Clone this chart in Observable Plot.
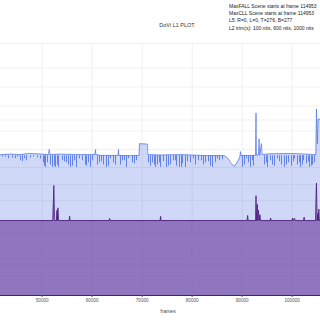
<!DOCTYPE html>
<html>
<head>
<meta charset="utf-8">
<script src="https://cdn.jsdelivr.net/npm/d3@7"></script>
<script src="https://cdn.jsdelivr.net/npm/@observablehq/plot@0.6"></script>
<style>
  html, body { margin: 0; padding: 0; background: #fff; }
  #chart { width: 320px; height: 320px; overflow: hidden; }
</style>
</head>
<body>
<div id="chart"></div>
<script>
// ---- data ----
const titleText = "DoVi L1 PLOT";
const infoLines = [
  "MaxFALL Scene starts at frame 114953",
  "MaxCLL Scene starts at frame 114953",
  "L5: R=0, L=0, T=276, B=277",
  "L2 trim(s): 100 nits, 600 nits, 1000 nits"
];
const xLabel = "frames";
const xTicks = [50000, 60000, 70000, 80000, 90000, 100000];
const gridNits = [0.1, 0.5, 1, 2.5, 5, 10, 25, 50, 100, 200, 400, 600, 1000, 2000, 4000, 10000];
const frameDomain = [41667, 105667];

// maximum (nits): upper envelope of the max series, including its spikes
const maxFrames = [
  41000, 41667, 43667, 45667, 47267, 48867, 51267, 51427, 51587, 53667,
  57667, 60587, 60667, 60747, 61667, 65187, 65267, 65347, 67667, 69387,
  69467, 71067, 71147, 73667, 77667, 81667, 86467, 87267, 87867, 88467,
  89067, 89547, 89667, 89787, 92667, 92767, 92867, 93267, 93387, 93507,
  93867, 93987, 95667, 99667, 102667, 104747, 104867, 105027, 105187, 105667,
  106100
];
const maxNits = [
  165, 165, 168, 165, 172, 170, 165, 200, 165, 168,
  165, 165, 200, 165, 160, 160, 200, 160, 158, 160,
  250, 245, 165, 162, 165, 160, 158, 140, 115, 105,
  125, 150, 185, 160, 160, 780, 160, 165, 300, 160,
  250, 165, 170, 172, 168, 165, 900, 250, 620, 620,
  620
];
// single-frame drops of the max series below its envelope
const dipTopNits = 158;
const dipFrames = [
  42667, 43267, 44067, 45667, 46067, 46467, 46867, 48267, 49067, 50467,
  50667, 51067, 52067, 52467, 52667, 53067, 53267, 54067, 54867, 55667,
  56067, 56867, 57467, 58067, 58667, 59267, 59667, 61467, 62267, 62867,
  63667, 64267, 65667, 66467, 67267, 68067, 68867, 71667, 72067, 72667,
  73067, 73667, 74267, 74867, 75667, 76267, 76867, 77467, 78067, 78667,
  79667, 80267, 81267, 82267, 83267, 84067, 84667, 85467, 90067, 90467,
  90867, 91667, 92067, 92267, 94467, 95067, 95667, 96467, 97067, 97867,
  98467, 99267, 99867, 100467, 101067, 101667, 102267, 102867, 103467, 104067,
  104467,
  42067, 44667, 45067, 47667, 49667, 50267, 51667, 54467, 55267, 56467,
  58867, 60067, 61067, 61867, 63267, 64667, 66067, 66867, 68467, 71267,
  72467, 73467, 75267, 76667, 77867, 79067, 80667, 81867, 82667, 83667,
  85067, 86067, 91267, 94867, 96067, 97467, 98867, 100267, 101467, 102067,
  103267, 103867
];
const dipNits = [
  150, 140, 145, 130, 125, 140, 130, 150, 145, 105,
  100, 120, 100, 105, 100, 110, 100, 130, 120, 100,
  105, 100, 140, 130, 110, 120, 100, 120, 110, 100,
  140, 120, 110, 130, 140, 120, 130, 105, 120, 100,
  110, 100, 125, 100, 110, 130, 105, 100, 115, 100,
  120, 140, 130, 110, 125, 100, 120, 130, 100, 110,
  140, 100, 130, 105, 110, 100, 130, 105, 140, 110,
  100, 120, 105, 140, 110, 100, 130, 115, 100, 110,
  120,
  150, 140, 150, 145, 140, 120, 110, 125, 110, 130,
  105, 130, 110, 125, 105, 110, 130, 100, 115, 120,
  110, 120, 105, 130, 100, 125, 110, 130, 120, 105,
  140, 135, 120, 120, 110, 125, 110, 125, 120, 110,
  125, 105
];

// average (nits)
const avgFrames = [
  41600, 52150, 52330, 52500, 52850, 52950, 53050, 53150, 53300,
  55400, 55500, 55600, 63400, 63500, 63600, 73600, 73700, 73800,
  91000, 91100, 91200, 92700, 92770, 92900, 93050, 93150, 93250, 93400, 93550, 93700,
  95600, 95700, 95800, 100000, 100100, 100200, 100500, 100600,
  102300, 102400, 102500, 104700, 104860, 105000, 105150, 105250, 105330, 105450, 106000
];
const avgNits = [
  9.7, 9.7, 48, 9.7, 9.7, 16, 9.7, 18, 9.7,
  9.7, 12, 9.7, 9.7, 10.8, 9.7, 9.7, 12, 9.7,
  9.7, 12.5, 9.7, 9.7, 31, 9.7, 21, 9.7, 16, 9.7, 13, 9.7,
  9.7, 11, 9.7, 9.7, 11, 9.7, 10.8, 9.7,
  9.7, 11.5, 9.7, 9.7, 53, 9.7, 14, 9.7, 17, 9.7, 9.7
];

// ---- PQ (ST 2084) encoding for the nits axis ----
function pq(n) {
  const m1 = 0.1593017578125, m2 = 78.84375, c1 = 0.8359375, c2 = 18.8515625, c3 = 18.6875;
  const p = Math.pow(Math.max(n, 0) / 10000, m1);
  return Math.pow((c1 + c2 * p) / (1 + c3 * p), m2);
}

const maxData = maxFrames.map((f, i) => ({frame: f, nits: maxNits[i]}));
const dipData = dipFrames.map((f, i) => ({frame: f, nits: dipNits[i]}));
const avgData = avgFrames.map((f, i) => ({frame: f, nits: avgNits[i]}));

const font = "'Liberation Sans', Arial, sans-serif";
const blue = "#4169e1";

const chart = Plot.plot({
  width: 320,
  height: 320,
  marginLeft: 0,
  marginRight: 0,
  marginTop: 43,
  marginBottom: 25,
  style: {fontFamily: font, background: "#fff"},
  x: {domain: frameDomain},
  y: {domain: [0, 1], axis: null},
  marks: [
    Plot.ruleY(gridNits, {y: d => pq(d), stroke: "#eeeeee", strokeWidth: 0.8}),
    Plot.ruleX(xTicks, {x: d => d, stroke: "#eeeeee", strokeWidth: 0.8}),
    Plot.areaY(maxData, {x: "frame", y: d => pq(d.nits), fill: blue, fillOpacity: 0.25, clip: true}),
    Plot.lineY(maxData, {x: "frame", y: d => pq(d.nits), stroke: blue, strokeWidth: 0.7, strokeOpacity: 0.9, clip: true}),
    Plot.ruleX(dipData, {x: "frame", y1: () => pq(dipTopNits), y2: d => pq(d.nits), stroke: blue, strokeWidth: 0.9, strokeOpacity: 0.85, clip: true}),
    Plot.areaY(avgData, {x: "frame", y: d => pq(d.nits), fill: "#663399", fillOpacity: 0.6, clip: true}),
    Plot.lineY(avgData, {x: "frame", y: d => pq(d.nits), stroke: "#4b1a7a", strokeWidth: 0.8, clip: true}),
    Plot.ruleY([0], {stroke: "#333", strokeWidth: 1}),
    Plot.axisX({ticks: xTicks, tickFormat: d => String(d), fontSize: 4.6, tickSize: 2, tickPadding: 1.5, color: "#555", label: null})
  ]
});

const svg = d3.select(chart);
svg.append("text")
  .attr("x", 177).attr("y", 26.5)
  .attr("text-anchor", "middle")
  .attr("font-family", font).attr("font-size", 5.5).attr("fill", "#333")
  .text(titleText);
svg.append("g").attr("text-anchor", "start").selectAll("text").data(infoLines).join("text")
  .attr("x", 229).attr("y", (d, i) => 8 + i * 7.2)
  .attr("text-anchor", "start")
  .attr("font-family", font).attr("font-size", 5).attr("fill", "#222")
  .text(d => d);
svg.append("text")
  .attr("x", 168).attr("y", 313)
  .attr("text-anchor", "middle")
  .attr("font-family", font).attr("font-size", 5).attr("fill", "#444")
  .text(xLabel);

document.getElementById("chart").appendChild(chart);
</script>
</body>
</html>
